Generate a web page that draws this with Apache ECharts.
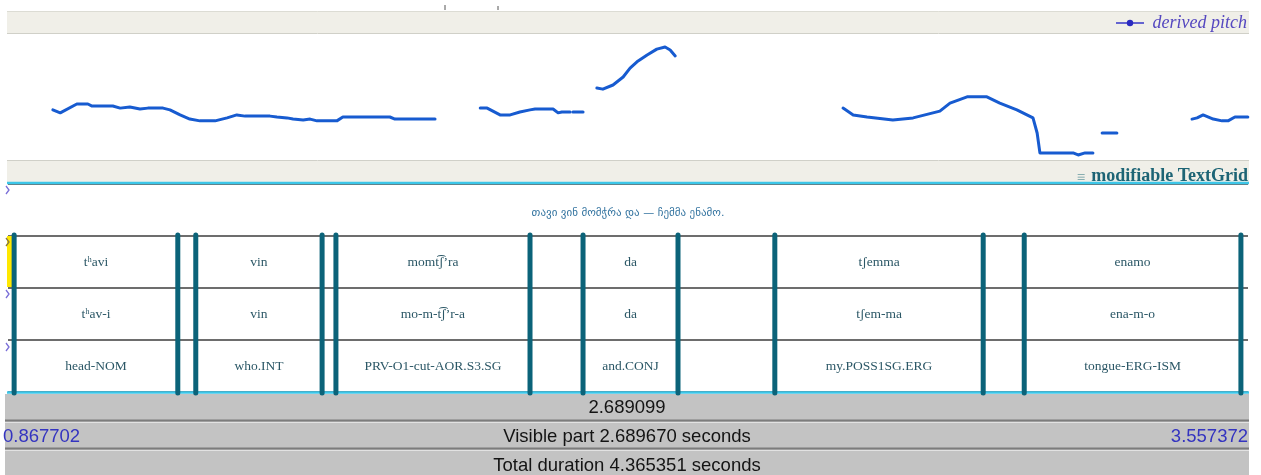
<!DOCTYPE html>
<html><head><meta charset="utf-8">
<script src="https://cdn.jsdelivr.net/npm/echarts@6/dist/echarts.min.js"></script>
<style>html,body{margin:0;padding:0;background:#fff}#c{width:1261px;height:475px}</style>
</head><body><div id="c"></div>
<script>
// ---- view / time range ----
const viewStart = 0.867702;
const viewEnd = 3.557372;

// ---- derived pitch (time s, Hz), separate voiced stretches ----
const pitchSeg1 = [[0.965,244],[0.981,234],[1.017,264],[1.041,264],[1.050,257],[1.095,257],[1.111,250],[1.132,254],[1.154,247],[1.171,250],[1.204,250],[1.219,244],[1.241,227],[1.262,213],[1.284,207],[1.317,207],[1.343,217],[1.364,227],[1.382,223],[1.436,223],[1.451,220],[1.473,217],[1.486,213],[1.508,210],[1.523,213],[1.538,207],[1.581,207],[1.594,220],[1.696,220],[1.707,213],[1.794,213]];
const pitchSeg2 = [[1.892,250],[1.907,250],[1.935,227],[1.957,227],[1.978,237],[2.000,244],[2.011,247],[2.050,247],[2.061,234],[2.069,237],[2.087,237]];
const pitchSeg3 = [[2.093,237],[2.115,237]];
const pitchSeg4 = [[2.145,318],[2.158,314],[2.180,328],[2.202,355],[2.217,385],[2.232,406],[2.254,429],[2.275,449],[2.293,456],[2.304,446],[2.315,426]];
const pitchSeg5 = [[2.679,250],[2.701,227],[2.731,220],[2.787,210],[2.831,217],[2.889,240],[2.911,267],[2.948,288],[2.961,288],[2.991,288],[3.019,267],[3.056,244],[3.091,217],[3.100,166],[3.106,99],[3.178,99],[3.189,92],[3.204,99],[3.221,99]];
const pitchSeg6 = [[3.241,166],[3.273,166]];
const pitchSeg7 = [[3.436,213],[3.447,217],[3.460,227],[3.482,213],[3.501,207],[3.514,207],[3.529,220],[3.544,220],[3.557,220]];
const pitchSegments = [pitchSeg1,pitchSeg2,pitchSeg3,pitchSeg4,pitchSeg5,pitchSeg6,pitchSeg7];
const pitchMin = 75, pitchMax = 500;

// ---- TextGrid ----
const boundaries = [0.881,1.236,1.275,1.549,1.579,2.000,2.115,2.321,2.531,2.983,3.072,3.542];
const wordIntervals = [[0.881,1.236],[1.275,1.549],[1.579,2.000],[2.115,2.321],[2.531,2.983],[3.072,3.542]];
const sentenceText = 'თავი ვინ მომჭრა და — ჩემმა ენამო.';
const tierWords = ['tʰavi','vin','momt͡ʃʼra','da','tʃemma','enamo'];
const tierMorphs = ['tʰav-i','vin','mo-m-t͡ʃʼr-a','da','tʃem-ma','ena-m-o'];
const tierGlosses = ['head-NOM','who.INT','PRV-O1-cut-AOR.S3.SG','and.CONJ','my.POSS1SG.ERG','tongue-ERG-ISM'];

// ---- texts ----
const legendText = 'derived pitch';
const textGridTitle = 'modifiable TextGrid';
const selectionText = '2.689099';
const visibleText = 'Visible part 2.689670 seconds';
const startText = '0.867702';
const endText = '3.557372';
const totalText = 'Total duration 4.365351 seconds';

// build tier label data
const labelData = [], labelTexts = [];
labelData.push([viewStart, viewEnd, -1]); labelTexts.push(sentenceText);
[tierWords, tierMorphs, tierGlosses].forEach((tier, ti) => {
  tier.forEach((t, j) => {
    labelData.push([wordIntervals[j][0], wordIntervals[j][1], ti]);
    labelTexts.push(t);
  });
});

const serif = "'Liberation Serif','DejaVu Serif',serif";
const sans = "'Liberation Sans',Arial,sans-serif";

const chart = echarts.init(document.getElementById('c'), null, {renderer:'canvas'});

const pitchSeries = pitchSegments.map(seg => ({
  type:'line', xAxisIndex:0, yAxisIndex:0, data:seg, showSymbol:false, symbol:'none',
  lineStyle:{color:'#175bd0', width:3, cap:'round', join:'round'}, z:3, silent:true
}));

const option = {
  animation:false,
  backgroundColor:'#ffffff',
  grid:[
    {left:8, right:13, top:34, height:126, show:false},
    {left:8, right:13, top:184, height:208, show:false}
  ],
  xAxis:[
    {type:'value', gridIndex:0, min:viewStart, max:viewEnd, show:false},
    {type:'value', gridIndex:1, min:viewStart, max:viewEnd, show:false}
  ],
  yAxis:[
    {type:'value', gridIndex:0, min:pitchMin, max:pitchMax, show:false},
    {type:'value', gridIndex:1, min:-1, max:3, interval:1, inverse:true,
     axisLine:{show:false}, axisTick:{show:false}, axisLabel:{show:false},
     splitLine:{show:true, lineStyle:{color:'#3c3c3c', width:1.5}}}
  ],
  graphic:[
    // top band
    {type:'rect', z:-5, shape:{x:7,y:11,width:1242,height:22}, style:{fill:'#f0efe8'}},
    {type:'line', z:-4, shape:{x1:7,y1:11.5,x2:1249,y2:11.5}, style:{stroke:'#dcdcd4',lineWidth:1}},
    {type:'line', z:-4, shape:{x1:7,y1:33.5,x2:1249,y2:33.5}, style:{stroke:'#d0d0c8',lineWidth:1}},
    {type:'line', z:-4, shape:{x1:445,y1:5,x2:445,y2:10}, style:{stroke:'#555',lineWidth:1}},
    {type:'line', z:-4, shape:{x1:498,y1:6,x2:498,y2:10}, style:{stroke:'#555',lineWidth:1}},
    {type:'line', z:5, shape:{x1:1116,y1:23,x2:1144,y2:23}, style:{stroke:'#3636c8',lineWidth:1.5}},
    {type:'circle', z:5, shape:{cx:1130,cy:23,r:3.2}, style:{fill:'#2a2ac0'}},
    {type:'text', z:5, style:{text:legendText, x:1247, y:23, align:'right', verticalAlign:'middle',
      font:"italic 18px "+serif, fill:'#5548c0'}},
    // middle band
    {type:'rect', z:-5, shape:{x:7,y:161,width:1242,height:21}, style:{fill:'#f0efe8'}},
    {type:'line', z:-4, shape:{x1:7,y1:160.5,x2:1249,y2:160.5}, style:{stroke:'#d0d0c8',lineWidth:1}},
    {type:'text', z:5, style:{text:'≡', x:1081, y:178, align:'center', verticalAlign:'middle',
      font:"15px "+serif, fill:'#6a9aa0'}},
    {type:'text', z:5, style:{text:textGridTitle, x:1248, y:176, align:'right', verticalAlign:'middle',
      font:"bold 18px "+serif, fill:'#1d6475'}},
    // textgrid frame
    {type:'line', z:1, shape:{x1:7,y1:183,x2:1249,y2:183}, style:{stroke:'#3cc6e8',lineWidth:2.5}},
    {type:'line', z:1, shape:{x1:7,y1:392.5,x2:1249,y2:392.5}, style:{stroke:'#3cc6e8',lineWidth:2.5}},
    {type:'rect', z:1, shape:{x:7,y:236,width:6,height:51}, style:{fill:'#ffe800'}},
    {type:'polyline', z:4, shape:{points:[[6,186],[9,190],[6,194]]}, style:{stroke:'#7a6fd8',lineWidth:1.3,fill:null}},
    {type:'polyline', z:4, shape:{points:[[6,238],[9,242],[6,246]]}, style:{stroke:'#8a7a40',lineWidth:1.3,fill:null}},
    {type:'polyline', z:4, shape:{points:[[6,290],[9,294],[6,298]]}, style:{stroke:'#7a6fd8',lineWidth:1.3,fill:null}},
    {type:'polyline', z:4, shape:{points:[[6,343],[9,347],[6,351]]}, style:{stroke:'#7a6fd8',lineWidth:1.3,fill:null}},
    // bottom status area
    {type:'rect', z:0, shape:{x:5,y:394,width:1244,height:81}, style:{fill:'#c3c3c3'}},
    {type:'line', z:0, shape:{x1:5,y1:420.5,x2:1249,y2:420.5}, style:{stroke:'#7c7c7c',lineWidth:2}},
    {type:'line', z:0, shape:{x1:5,y1:422.5,x2:1249,y2:422.5}, style:{stroke:'#e2e2e2',lineWidth:1}},
    {type:'line', z:0, shape:{x1:5,y1:448.5,x2:1249,y2:448.5}, style:{stroke:'#7c7c7c',lineWidth:2}},
    {type:'line', z:0, shape:{x1:5,y1:450.5,x2:1249,y2:450.5}, style:{stroke:'#e2e2e2',lineWidth:1}},
    {type:'text', z:5, style:{text:selectionText, x:627, y:408, align:'center', verticalAlign:'middle', font:"18.5px "+sans, fill:'#141414'}},
    {type:'text', z:5, style:{text:startText, x:3, y:437, align:'left', verticalAlign:'middle', font:"18.5px "+sans, fill:'#3434c0'}},
    {type:'text', z:5, style:{text:visibleText, x:627, y:437, align:'center', verticalAlign:'middle', font:"18.5px "+sans, fill:'#141414'}},
    {type:'text', z:5, style:{text:endText, x:1248, y:437, align:'right', verticalAlign:'middle', font:"18.5px "+sans, fill:'#3434c0'}},
    {type:'text', z:5, style:{text:totalText, x:627, y:466, align:'center', verticalAlign:'middle', font:"18.5px "+sans, fill:'#141414'}}
  ],
  series: pitchSeries.concat([
    {
      type:'custom', xAxisIndex:1, yAxisIndex:1, z:3, silent:true, clip:false,
      data: boundaries.map(t => [t, 0]),
      encode:{x:0, y:1},
      renderItem:(params, api) => {
        const t = api.value(0);
        const top = api.coord([t, 0]);
        const bot = api.coord([t, 3]);
        return {type:'line', shape:{x1:top[0], y1:top[1]-1, x2:bot[0], y2:bot[1]+1},
          style:{stroke:'#0b6379', lineWidth:5, lineCap:'round'}};
      }
    },
    {
      type:'custom', xAxisIndex:1, yAxisIndex:1, z:4, silent:true, clip:false,
      data: labelData,
      encode:{x:[0,1], y:2},
      renderItem:(params, api) => {
        const s = api.value(0), e = api.value(1), tier = api.value(2);
        const p = api.coord([(s+e)/2, tier + 0.5]);
        const isSentence = tier < 0;
        return {type:'text', style:{
          text: labelTexts[params.dataIndex], x:p[0], y: isSentence ? p[1]+3 : p[1],
          align:'center', verticalAlign:'middle',
          font: isSentence ? "11px 'DejaVu Sans',sans-serif" : "13.5px "+serif,
          fill: isSentence ? '#3474a0' : '#2b5766'}};
      }
    }
  ])
};
chart.setOption(option);
</script>
</body></html>
